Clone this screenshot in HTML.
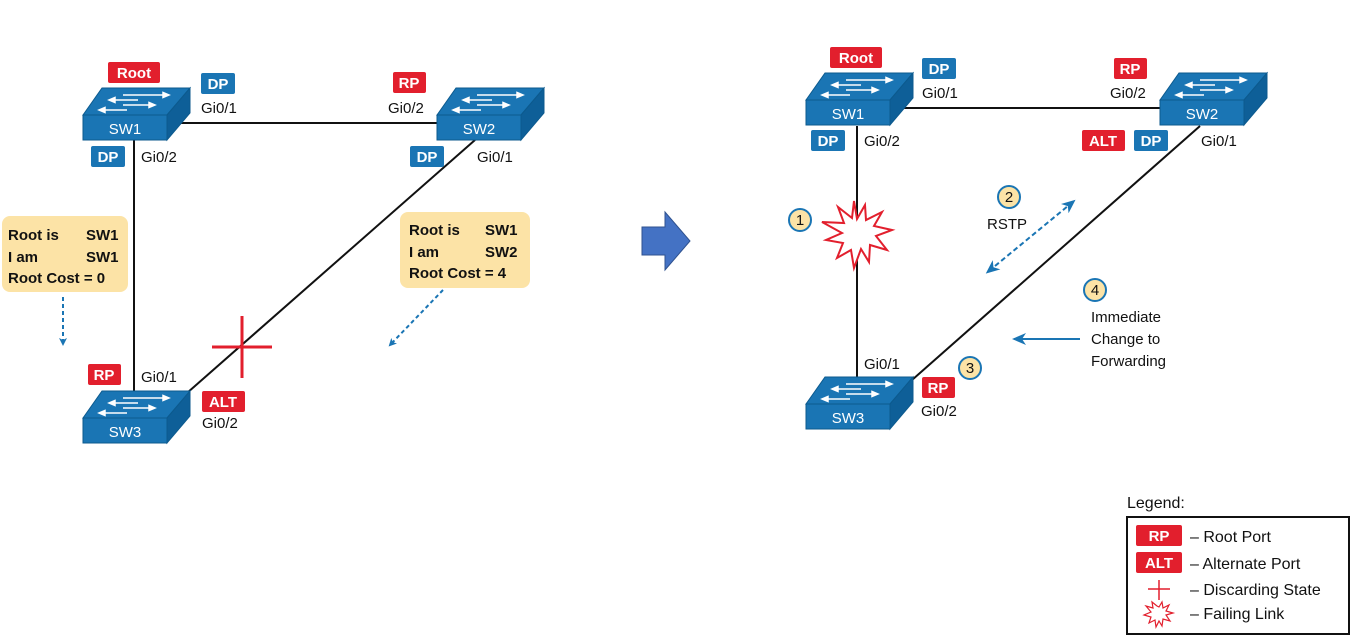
<!DOCTYPE html>
<html><head><meta charset="utf-8"><style>
html,body{margin:0;padding:0;background:#fff;}
svg{display:block;font-family:"Liberation Sans",Arial,sans-serif;}
</style></head><body>
<svg width="1353" height="637" viewBox="0 0 1353 637" xmlns="http://www.w3.org/2000/svg">
<defs>
<g id="sw">
<polygon points="0,0 19,-27 107,-27 84,0" fill="#1a75b4" stroke="#0c5a8e" stroke-width="1"/>
<polygon points="84,0 107,-27 107,-2 84,25" fill="#0e5f98" stroke="#0c5a8e" stroke-width="1"/>
<rect x="0" y="0" width="84" height="25" fill="#1a75b4" stroke="#0c5a8e" stroke-width="1"/>
<g stroke="#fff" stroke-width="1.5" fill="#fff">
<line x1="40" y1="-20" x2="80" y2="-20"/><polygon points="80,-22.5 86,-20 80,-17.5"/>
<line x1="32" y1="-15" x2="55" y2="-15"/><polygon points="32,-17.5 26,-15 32,-12.5"/>
<line x1="40" y1="-10" x2="66" y2="-10"/><polygon points="66,-12.5 72,-10 66,-7.5"/>
<line x1="22" y1="-5" x2="44" y2="-5"/><polygon points="22,-7.5 16,-5 22,-2.5"/>
</g>
</g>
<marker id="ab" markerWidth="8" markerHeight="8" refX="6" refY="4" orient="auto" markerUnits="userSpaceOnUse"><path d="M0,0 L8,4 L0,8 L2,4 Z" fill="#1a75b4"/></marker>
<marker id="abig" markerWidth="14" markerHeight="12" refX="12" refY="6" orient="auto" markerUnits="userSpaceOnUse"><path d="M0,0 L14,6 L0,12 L4,6 Z" fill="#1a75b4"/></marker>
<marker id="abs" markerWidth="14" markerHeight="12" refX="2" refY="6" orient="auto-start-reverse" markerUnits="userSpaceOnUse"><path d="M0,0 L14,6 L0,12 L4,6 Z" fill="#1a75b4"/></marker>
</defs>

<g stroke="#111" stroke-width="2">
<line x1="167" y1="123" x2="437" y2="123"/>
<line x1="134" y1="140" x2="134" y2="410"/>
<line x1="475" y1="140" x2="187" y2="393"/>
<line x1="890" y1="108" x2="1160" y2="108"/>
<line x1="857" y1="126" x2="857" y2="392"/>
<line x1="1200" y1="126" x2="912" y2="380"/>
</g>

<use href="#sw" x="83" y="115"/>
<use href="#sw" x="437" y="115"/>
<use href="#sw" x="83" y="418"/>
<use href="#sw" x="806" y="100"/>
<use href="#sw" x="1160" y="100"/>
<use href="#sw" x="806" y="404"/>
<g fill="#fff" font-size="15" text-anchor="middle">
<text x="125" y="134">SW1</text><text x="479" y="134">SW2</text><text x="125" y="437">SW3</text>
<text x="848" y="119">SW1</text><text x="1202" y="119">SW2</text><text x="848" y="423">SW3</text>
</g>

<g font-weight="bold" font-size="15" fill="#fff" text-anchor="middle">
<rect x="108" y="62" width="52" height="21" rx="2" fill="#e21f2d"/><text x="134" y="78">Root</text>
<rect x="201" y="73" width="34" height="21" rx="2" fill="#1a75b4"/><text x="218" y="89">DP</text>
<rect x="91" y="146" width="34" height="21" rx="2" fill="#1a75b4"/><text x="108" y="162">DP</text>
<rect x="393" y="72" width="33" height="21" rx="2" fill="#e21f2d"/><text x="409" y="88">RP</text>
<rect x="410" y="146" width="34" height="21" rx="2" fill="#1a75b4"/><text x="427" y="162">DP</text>
<rect x="88" y="364" width="33" height="21" rx="2" fill="#e21f2d"/><text x="104" y="380">RP</text>
<rect x="202" y="391" width="43" height="21" rx="2" fill="#e21f2d"/><text x="223" y="407">ALT</text>

<rect x="830" y="47" width="52" height="21" rx="2" fill="#e21f2d"/><text x="856" y="63">Root</text>
<rect x="922" y="58" width="34" height="21" rx="2" fill="#1a75b4"/><text x="939" y="74">DP</text>
<rect x="811" y="130" width="34" height="21" rx="2" fill="#1a75b4"/><text x="828" y="146">DP</text>
<rect x="1114" y="58" width="33" height="21" rx="2" fill="#e21f2d"/><text x="1130" y="74">RP</text>
<rect x="1082" y="130" width="43" height="21" rx="2" fill="#e21f2d"/><text x="1103" y="146">ALT</text>
<rect x="1134" y="130" width="34" height="21" rx="2" fill="#1a75b4"/><text x="1151" y="146">DP</text>
<rect x="922" y="377" width="33" height="21" rx="2" fill="#e21f2d"/><text x="938" y="393">RP</text>
</g>

<g font-size="15" fill="#111">
<text x="201" y="113">Gi0/1</text>
<text x="141" y="162">Gi0/2</text>
<text x="388" y="113">Gi0/2</text>
<text x="477" y="162">Gi0/1</text>
<text x="141" y="382">Gi0/1</text>
<text x="202" y="428">Gi0/2</text>
<text x="922" y="98">Gi0/1</text>
<text x="864" y="146">Gi0/2</text>
<text x="1110" y="98">Gi0/2</text>
<text x="1201" y="146">Gi0/1</text>
<text x="864" y="369">Gi0/1</text>
<text x="921" y="416">Gi0/2</text>
</g>

<rect x="2" y="216" width="126" height="76" rx="8" fill="#fce3a6"/>
<g font-weight="bold" font-size="15" fill="#111">
<text x="8" y="240">Root is</text><text x="86" y="240">SW1</text>
<text x="8" y="262">I am</text><text x="86" y="262">SW1</text>
<text x="8" y="283">Root Cost = 0</text>
</g>
<rect x="400" y="212" width="130" height="76" rx="8" fill="#fce3a6"/>
<g font-weight="bold" font-size="15" fill="#111">
<text x="409" y="235">Root is</text><text x="485" y="235">SW1</text>
<text x="409" y="257">I am</text><text x="485" y="257">SW2</text>
<text x="409" y="278">Root Cost = 4</text>
</g>
<line x1="63" y1="297" x2="63" y2="344" stroke="#1a75b4" stroke-width="2" stroke-dasharray="4,3" marker-end="url(#ab)"/>
<line x1="443" y1="290" x2="390" y2="345" stroke="#1a75b4" stroke-width="2" stroke-dasharray="4,3" marker-end="url(#ab)"/>

<g stroke="#e21f2d" stroke-width="3">
<line x1="242" y1="316" x2="242" y2="378"/><line x1="212" y1="347" x2="272" y2="347"/>
</g>

<polygon points="642,227 665,227 665,212 690,241 665,270 665,255 642,255" fill="#4472c4" stroke="#2f528f" stroke-width="1"/>

<polygon fill="#fff" stroke="#e21f2d" stroke-width="2" points="857,219 865,205 866,220 882,212 874,226 892,230 876,236 887,250 870,245 869,262 861,249 854,268 851,250 837,258 843,243 826,240 842,233 822,222 844,223 838,207 852,218 854,201"/>

<g font-size="15" fill="#111" text-anchor="middle">
<circle cx="800" cy="220" r="11" fill="#fce3a6" stroke="#1a75b4" stroke-width="2"/><text x="800" y="225">1</text>
<circle cx="1009" cy="197" r="11" fill="#fce3a6" stroke="#1a75b4" stroke-width="2"/><text x="1009" y="202">2</text>
<circle cx="970" cy="368" r="11" fill="#fce3a6" stroke="#1a75b4" stroke-width="2"/><text x="970" y="373">3</text>
<circle cx="1095" cy="290" r="11" fill="#fce3a6" stroke="#1a75b4" stroke-width="2"/><text x="1095" y="295">4</text>
</g>
<text x="987" y="229" font-size="15" fill="#111">RSTP</text>
<line x1="995" y1="266" x2="1074" y2="201" stroke="#1a75b4" stroke-width="2" stroke-dasharray="5,3" marker-end="url(#abig)" marker-start="url(#abs)"/>
<g font-size="15" fill="#111">
<text x="1091" y="322">Immediate</text>
<text x="1091" y="344">Change to</text>
<text x="1091" y="366">Forwarding</text>
</g>
<line x1="1080" y1="339" x2="1014" y2="339" stroke="#1a75b4" stroke-width="2" marker-end="url(#abig)"/>

<text x="1127" y="508" font-size="16" fill="#111">Legend:</text>
<rect x="1127" y="517" width="222" height="117" fill="#fff" stroke="#111" stroke-width="2"/>
<g font-weight="bold" font-size="15" fill="#fff" text-anchor="middle">
<rect x="1136" y="525" width="46" height="21" rx="2" fill="#e21f2d"/><text x="1159" y="541">RP</text>
<rect x="1136" y="552" width="46" height="21" rx="2" fill="#e21f2d"/><text x="1159" y="568">ALT</text>
</g>
<g stroke="#e21f2d" stroke-width="1.5"><line x1="1159" y1="580" x2="1159" y2="600"/><line x1="1148" y1="589" x2="1170" y2="589"/></g>
<polygon fill="#fff" stroke="#e21f2d" stroke-width="1.2" transform="translate(0,5)" points="1159,602 1162,597 1163,603 1169,600 1166,606 1173,608 1166,610 1170,616 1163,614 1162,621 1159,616 1156,622 1155,615 1149,618 1151,612 1144,610 1151,607 1146,601 1153,603 1152,597 1157,601"/>
<g font-size="16" fill="#111">
<text x="1190" y="542">– Root Port</text>
<text x="1190" y="569">– Alternate Port</text>
<text x="1190" y="595">– Discarding State</text>
<text x="1190" y="619">– Failing Link</text>
</g>
</svg>
</body></html>
